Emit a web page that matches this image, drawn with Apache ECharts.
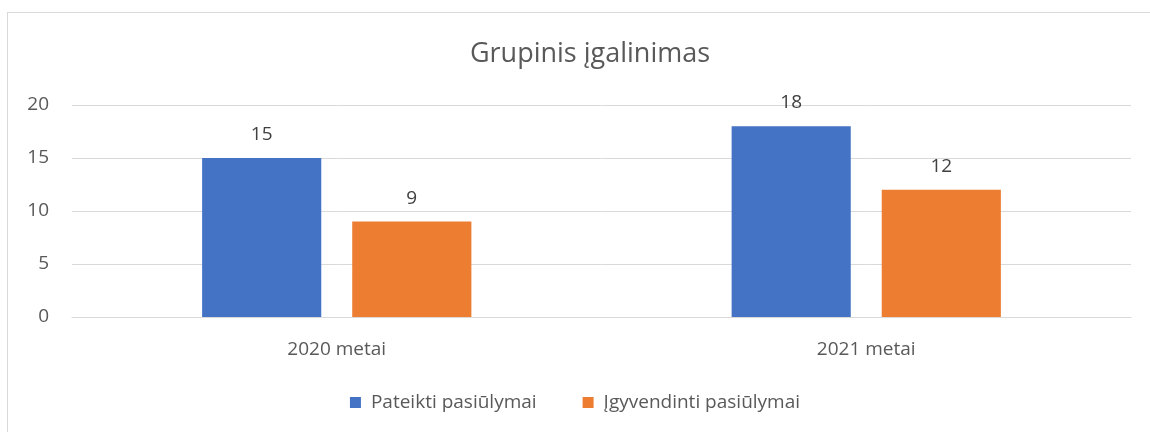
<!DOCTYPE html>
<html>
<head>
<meta charset="utf-8">
<script src="https://cdn.jsdelivr.net/npm/echarts@6/dist/echarts.min.js"></script>
<style>
  html, body { margin: 0; padding: 0; background: #fff; }
  #frame { position: absolute; left: 7px; top: 12px; width: 1160px; height: 440px; border: 1px solid #d9d9d9; box-sizing: border-box; }
  #main { position: absolute; left: 0; top: 0; width: 1150px; height: 432px; }
</style>
</head>
<body>
<div id="frame"></div>
<div id="main"></div>
<script>
// duomenys
var categories = ['2020 metai', '2021 metai'];
var pateikti = [15, 18];
var igyvendinti = [9, 12];
var yTicks = [0, 5, 10, 15, 20];

var font = 'Open Sans, Noto Sans, sans-serif';
var chart = echarts.init(document.getElementById('main'));
chart.setOption({
  animation: false,
  title: {
    text: 'Grupinis įgalinimas',
    left: 585,
    top: 36,
    textAlign: 'center',
    textStyle: { fontFamily: font, fontSize: 27, fontWeight: 'normal', color: '#595959' }
  },
  legend: {
    top: 388,
    left: 'center',
    itemWidth: 11,
    itemHeight: 11,
    itemGap: 46,
    icon: 'rect',
    textStyle: { fontFamily: font, fontSize: 19, color: '#595959', padding: [0, 0, 0, 5] },
    data: ['Pateikti pasiūlymai', 'Įgyvendinti pasiūlymai']
  },
  grid: { left: 72, right: 19, top: 105, bottom: 115, containLabel: false },
  xAxis: {
    type: 'category',
    data: categories,
    axisLine: { lineStyle: { color: '#d9d9d9', width: 1 } },
    axisTick: { show: false },
    axisLabel: { fontFamily: font, fontSize: 19, color: '#595959', margin: 23 }
  },
  yAxis: {
    type: 'value',
    min: yTicks[0],
    max: yTicks[yTicks.length - 1],
    interval: 5,
    axisLine: { show: false },
    axisTick: { show: false },
    splitLine: { lineStyle: { color: '#d9d9d9' } },
    axisLabel: { fontFamily: font, fontSize: 19, color: '#595959', margin: 23 }
  },
  series: [
    {
      name: 'Pateikti pasiūlymai',
      type: 'bar',
      data: pateikti,
      barWidth: '22.5%',
      barGap: '26%',
      itemStyle: { color: '#4472C4' },
      label: { show: true, position: 'top', distance: 14, fontFamily: font, fontSize: 19, color: '#404040' }
    },
    {
      name: 'Įgyvendinti pasiūlymai',
      type: 'bar',
      data: igyvendinti,
      barWidth: '22.5%',
      itemStyle: { color: '#ED7D31' },
      label: { show: true, position: 'top', distance: 14, fontFamily: font, fontSize: 19, color: '#404040' }
    }
  ]
});
</script>
</body>
</html>
